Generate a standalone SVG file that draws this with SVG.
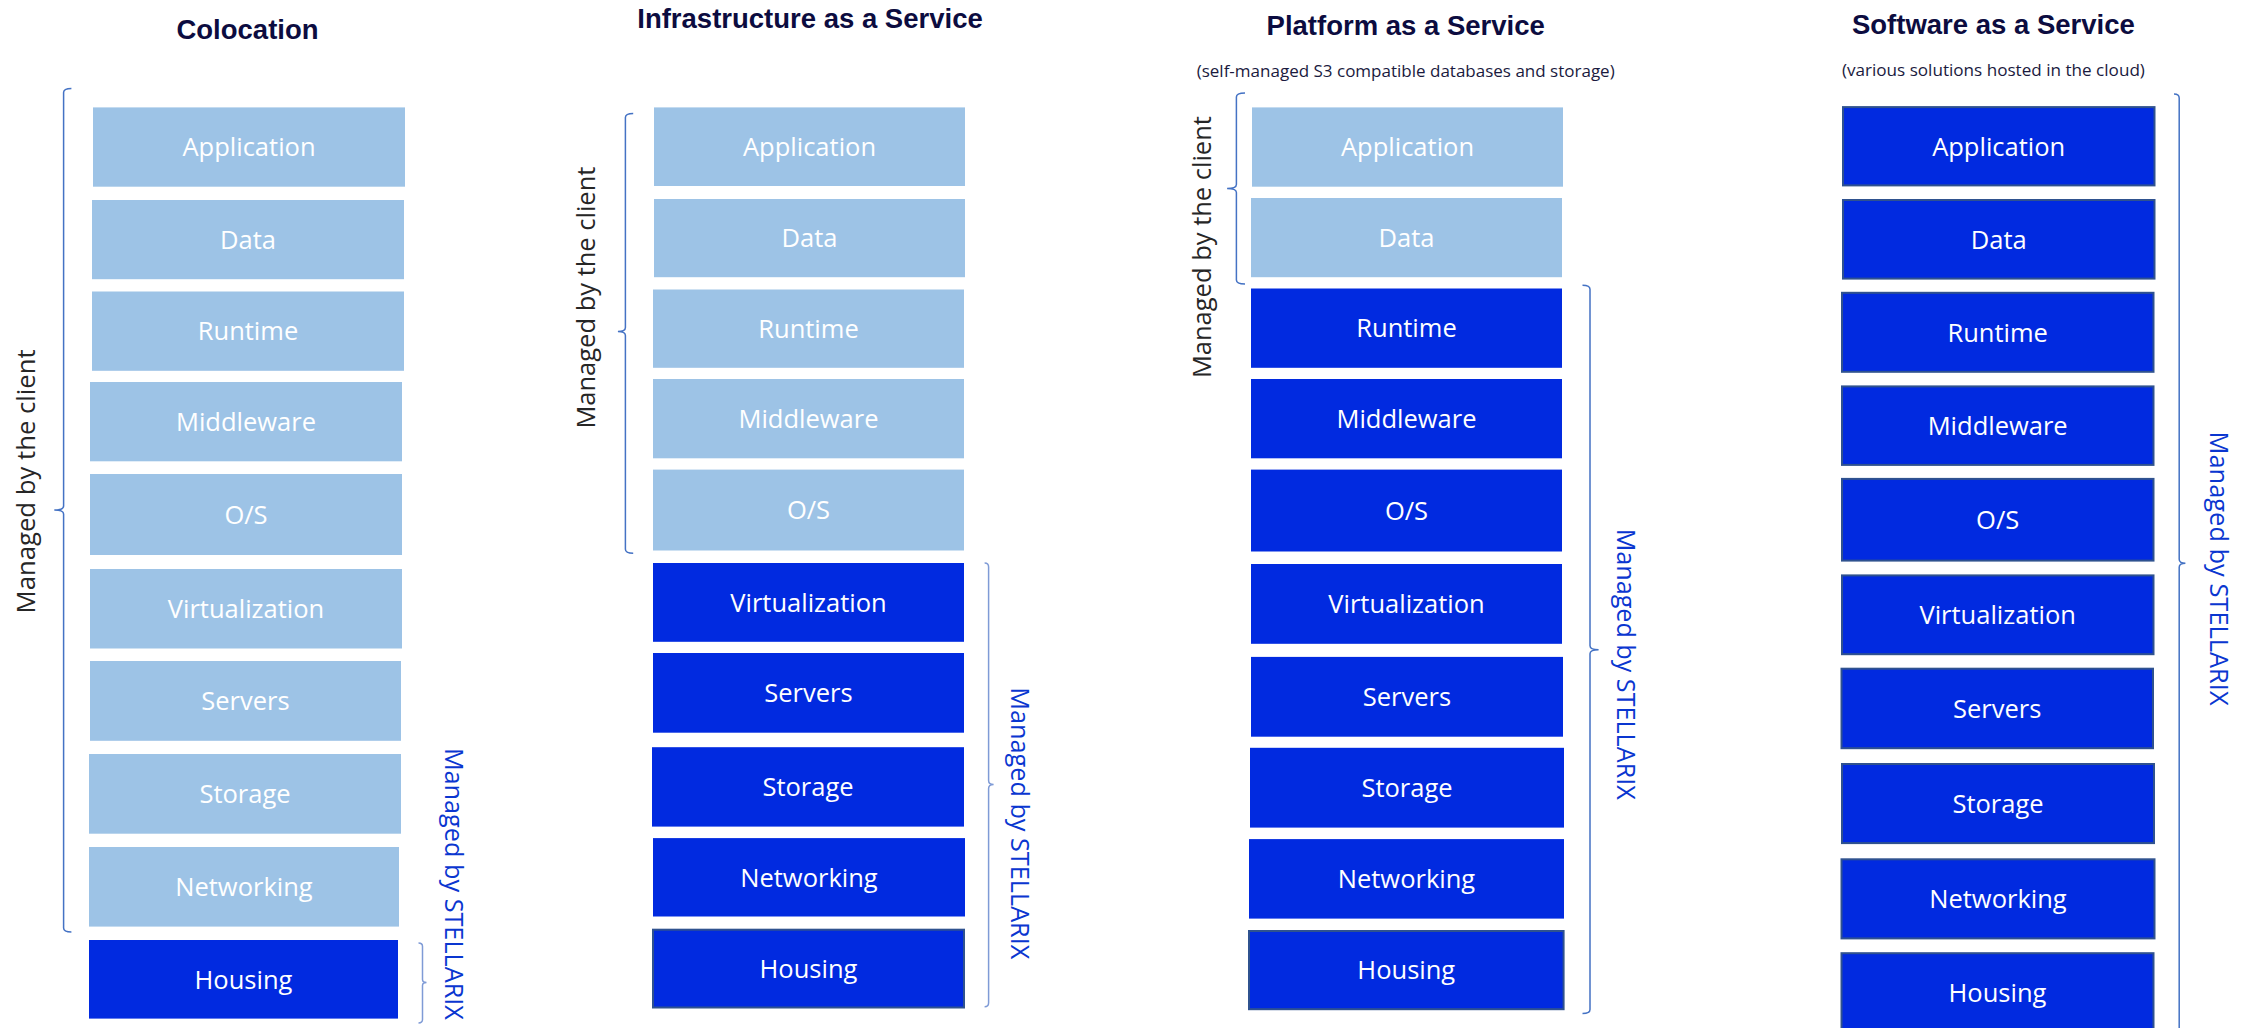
<svg xmlns="http://www.w3.org/2000/svg" width="2253" height="1028" viewBox="0 0 2253 1028">
<style>
.lt{fill:#9DC3E6}
.dk{fill:#012AE0}
.bd{stroke:#2F528F;stroke-width:2}
.lbl{font-family:"Open Sans","Liberation Sans",sans-serif;font-size:25.5px;fill:#FFFFFF;text-anchor:middle}
.ttl{font-family:"Liberation Sans",Arial,sans-serif;font-weight:bold;font-size:27.5px;fill:#0C0C40;text-anchor:middle}
.sub{font-family:"Open Sans","Liberation Sans",sans-serif;font-size:17px;fill:#1A1A3E;text-anchor:middle}
.cl{font-family:"Open Sans","Liberation Sans",sans-serif;font-size:25.5px;fill:#262626;text-anchor:middle}
.st{font-family:"Open Sans","Liberation Sans",sans-serif;font-size:25.5px;fill:#0A36D0;text-anchor:middle}
.br{fill:none;stroke:#4472C4;stroke-width:1.5}
.br2{fill:none;stroke:#7F9BD6;stroke-width:1.5}
</style>
<rect width="2253" height="1028" fill="#FFFFFF"/>

<!-- Titles -->
<g id="titles">
<text class="ttl" x="247.5" y="39.1">Colocation</text>
<text class="ttl" x="810" y="28.2">Infrastructure as a Service</text>
<text class="ttl" x="1405.7" y="34.8">Platform as a Service</text>
<text class="ttl" x="1993.4" y="34.2">Software as a Service</text>
<text class="sub" x="1405.7" y="76.9" textLength="418" lengthAdjust="spacingAndGlyphs">(self-managed S3 compatible databases and storage)</text>
<text class="sub" x="1993.4" y="76.3" textLength="303" lengthAdjust="spacingAndGlyphs">(various solutions hosted in the cloud)</text>
</g>

<!-- Colocation -->
<g id="colo-application"><rect class="lt" x="93" y="107.4" width="312" height="79.3"/><text class="lbl" x="249" y="156.4">Application</text></g>
<g id="colo-data"><rect class="lt" x="92" y="200" width="312" height="79.2"/><text class="lbl" x="248" y="248.9">Data</text></g>
<g id="colo-runtime"><rect class="lt" x="92" y="291.5" width="312" height="79.3"/><text class="lbl" x="248" y="340.4">Runtime</text></g>
<g id="colo-middleware"><rect class="lt" x="90" y="382" width="312" height="79.3"/><text class="lbl" x="246" y="431">Middleware</text></g>
<g id="colo-os"><rect class="lt" x="90" y="474" width="312" height="81"/><text class="lbl" x="246" y="523.8">O/S</text></g>
<g id="colo-virtualization"><rect class="lt" x="90" y="569" width="312" height="79.5"/><text class="lbl" x="246" y="618">Virtualization</text></g>
<g id="colo-servers"><rect class="lt" x="90" y="661" width="311" height="79.8"/><text class="lbl" x="245.5" y="710.2">Servers</text></g>
<g id="colo-storage"><rect class="lt" x="89" y="754" width="312" height="79.7"/><text class="lbl" x="245" y="803.2">Storage</text></g>
<g id="colo-networking"><rect class="lt" x="89" y="847" width="310" height="79.6"/><text class="lbl" x="244" y="896.1">Networking</text></g>
<g id="colo-housing"><rect class="dk" x="89" y="940" width="309" height="78.6"/><text class="lbl" x="243.5" y="988.6">Housing</text></g>

<!-- IaaS -->
<g id="iaas-application"><rect class="lt" x="654" y="107.4" width="311" height="78.6"/><text class="lbl" x="809.5" y="156">Application</text></g>
<g id="iaas-data"><rect class="lt" x="654" y="199" width="311" height="78.2"/><text class="lbl" x="809.5" y="247.4">Data</text></g>
<g id="iaas-runtime"><rect class="lt" x="653" y="289.5" width="311" height="78.3"/><text class="lbl" x="808.5" y="338">Runtime</text></g>
<g id="iaas-middleware"><rect class="lt" x="653" y="379" width="311" height="79.3"/><text class="lbl" x="808.5" y="428">Middleware</text></g>
<g id="iaas-os"><rect class="lt" x="653" y="469.6" width="311" height="80.9"/><text class="lbl" x="808.5" y="519.4">O/S</text></g>
<g id="iaas-virtualization"><rect class="dk" x="653" y="563" width="311" height="78.8"/><text class="lbl" x="808.5" y="611.7">Virtualization</text></g>
<g id="iaas-servers"><rect class="dk" x="653" y="653" width="311" height="79.7"/><text class="lbl" x="808.5" y="702.2">Servers</text></g>
<g id="iaas-storage"><rect class="dk" x="652" y="747.2" width="312" height="79.4"/><text class="lbl" x="808" y="796.2">Storage</text></g>
<g id="iaas-networking"><rect class="dk" x="653" y="838.1" width="312" height="78.4"/><text class="lbl" x="809" y="886.6">Networking</text></g>
<g id="iaas-housing"><rect class="dk bd" x="653" y="929.7" width="311" height="77.8"/><text class="lbl" x="808.5" y="977.9">Housing</text></g>

<!-- PaaS -->
<g id="paas-application"><rect class="lt" x="1252" y="107.4" width="311" height="79.3"/><text class="lbl" x="1407.5" y="156.4">Application</text></g>
<g id="paas-data"><rect class="lt" x="1251" y="198" width="311" height="79.2"/><text class="lbl" x="1406.5" y="246.9">Data</text></g>
<g id="paas-runtime"><rect class="dk" x="1251" y="288.5" width="311" height="79.3"/><text class="lbl" x="1406.5" y="337.4">Runtime</text></g>
<g id="paas-middleware"><rect class="dk" x="1251" y="379" width="311" height="79.3"/><text class="lbl" x="1406.5" y="428">Middleware</text></g>
<g id="paas-os"><rect class="dk" x="1251" y="469.6" width="311" height="81.9"/><text class="lbl" x="1406.5" y="519.9">O/S</text></g>
<g id="paas-virtualization"><rect class="dk" x="1251" y="564" width="311" height="79.8"/><text class="lbl" x="1406.5" y="613.2">Virtualization</text></g>
<g id="paas-servers"><rect class="dk" x="1251" y="656.9" width="312" height="79.8"/><text class="lbl" x="1407" y="706.1">Servers</text></g>
<g id="paas-storage"><rect class="dk" x="1250" y="747.8" width="314" height="79.8"/><text class="lbl" x="1407" y="797">Storage</text></g>
<g id="paas-networking"><rect class="dk" x="1249" y="839.1" width="315" height="79.5"/><text class="lbl" x="1406.5" y="888.2">Networking</text></g>
<g id="paas-housing"><rect class="dk bd" x="1249" y="931" width="314.6" height="78.2"/><text class="lbl" x="1406.3" y="979.4">Housing</text></g>

<!-- SaaS -->
<g id="saas-application"><rect class="dk bd" x="1843" y="107.1" width="311.5" height="78.3"/><text class="lbl" x="1998.7" y="155.6">Application</text></g>
<g id="saas-data"><rect class="dk bd" x="1843" y="200" width="311.5" height="78.6"/><text class="lbl" x="1998.7" y="248.6">Data</text></g>
<g id="saas-runtime"><rect class="dk bd" x="1842" y="292.8" width="311.5" height="79"/><text class="lbl" x="1997.7" y="341.6">Runtime</text></g>
<g id="saas-middleware"><rect class="dk bd" x="1842" y="386.4" width="311.5" height="78.5"/><text class="lbl" x="1997.7" y="435">Middleware</text></g>
<g id="saas-os"><rect class="dk bd" x="1842" y="478.9" width="311.5" height="81.7"/><text class="lbl" x="1997.7" y="529">O/S</text></g>
<g id="saas-virtualization"><rect class="dk bd" x="1842" y="575.4" width="311.5" height="78.8"/><text class="lbl" x="1997.7" y="624.1">Virtualization</text></g>
<g id="saas-servers"><rect class="dk bd" x="1841.5" y="668.7" width="311.5" height="79.5"/><text class="lbl" x="1997.2" y="717.8">Servers</text></g>
<g id="saas-storage"><rect class="dk bd" x="1842" y="764" width="312" height="79.1"/><text class="lbl" x="1998" y="812.9">Storage</text></g>
<g id="saas-networking"><rect class="dk bd" x="1841.5" y="859.3" width="313" height="79.1"/><text class="lbl" x="1998" y="908.2">Networking</text></g>
<g id="saas-housing"><rect class="dk bd" x="1841.5" y="953.2" width="312" height="79"/><text class="lbl" x="1997.5" y="1001.7">Housing</text></g>

<!-- Braces (connectors) -->
<g id="braces">
<path class="br" d="M71.4,88.5 Q63.6,88.5 63.6,92.5 L63.6,506.1 Q63.6,510.1 54.3,510.1 Q63.6,510.1 63.6,514.1 L63.6,928 Q63.6,932 71.4,932"/>
<path class="br2" d="M418.5,943.1 Q422.5,943.1 422.5,946.5 L422.5,979.5 Q422.5,982.5 426.5,982.5 Q422.5,982.5 422.5,985.5 L422.5,1019.6 Q422.5,1023 418.5,1023"/>
<path class="br" d="M633.2,113.4 Q625.4,113.4 625.4,117.4 L625.4,327.6 Q625.4,331.6 617.9,331.6 Q625.4,331.6 625.4,335.6 L625.4,549.2 Q625.4,553.2 633.2,553.2"/>
<path class="br2" d="M984.6,563 Q988.6,563 988.6,567 L988.6,780.5 Q988.6,784.5 993.6,784.5 Q988.6,784.5 988.6,788.5 L988.6,1002.8 Q988.6,1006.8 984.6,1006.8"/>
<path class="br" d="M1245,92.9 Q1236.4,92.9 1236.4,96.9 L1236.4,184.4 Q1236.4,188.4 1227.1,188.4 Q1236.4,188.4 1236.4,192.4 L1236.4,279.9 Q1236.4,283.9 1245,283.9"/>
<path class="br" d="M1582.5,285.2 Q1590,285.2 1590,289.2 L1590,645.8 Q1590,649.8 1598.6,649.8 Q1590,649.8 1590,653.8 L1590,1009.5 Q1590,1013.5 1582.5,1013.5"/>
<path class="br" d="M2174,93.9 Q2179.2,93.9 2179.2,97.9 L2179.2,559.3 Q2179.2,563.3 2185.4,563.3 Q2179.2,563.3 2179.2,567.3 L2179.2,1040"/>
</g>

<!-- Brace labels -->
<g id="labels">
<text class="cl" transform="translate(34.6,481.4) rotate(-90)" textLength="264" lengthAdjust="spacingAndGlyphs">Managed by the client</text>
<text class="cl" transform="translate(594.6,297.6) rotate(-90)" textLength="262" lengthAdjust="spacingAndGlyphs">Managed by the client</text>
<text class="cl" transform="translate(1211,247.1) rotate(-90)" textLength="262" lengthAdjust="spacingAndGlyphs">Managed by the client</text>
<text class="st" transform="translate(444.6,883.9) rotate(90)" textLength="272" lengthAdjust="spacingAndGlyphs">Managed by STELLARIX</text>
<text class="st" transform="translate(1010.7,823.3) rotate(90)" textLength="272" lengthAdjust="spacingAndGlyphs">Managed by STELLARIX</text>
<text class="st" transform="translate(1617.1,664.2) rotate(90)" textLength="271" lengthAdjust="spacingAndGlyphs">Managed by STELLARIX</text>
<text class="st" transform="translate(2209.9,568.6) rotate(90)" textLength="274" lengthAdjust="spacingAndGlyphs">Managed by STELLARIX</text>
</g>
</svg>
